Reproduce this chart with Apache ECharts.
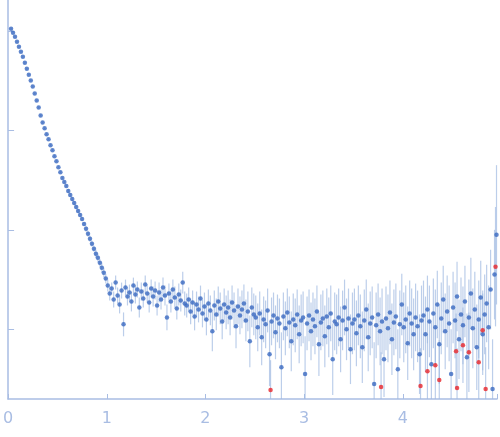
<!DOCTYPE html>
<html>
<head>
<meta charset="utf-8">
<script src="https://cdn.jsdelivr.net/npm/echarts@6/dist/echarts.min.js"></script>
<style>html,body{margin:0;padding:0;background:#fff}#chart{width:500px;height:437px}</style>
</head>
<body>
<div id="chart"></div>
<script>
// [q, log10 I, error]
const curvePoints = [
  [0.03,3.02,0.01],[0.05,2.98,0.01],[0.07,2.94,0.01],[0.09,2.89,0.01],[0.11,2.84,0.01],[0.13,2.79,0.01],
  [0.15,2.74,0.01],[0.17,2.68,0.01],[0.19,2.62,0.01],[0.21,2.56,0.01],[0.23,2.50,0.01],[0.25,2.44,0.01],
  [0.27,2.37,0.01],[0.29,2.30,0.01],[0.31,2.23,0.01],[0.33,2.15,0.01],[0.35,2.08,0.01],[0.37,2.02,0.01],
  [0.39,1.96,0.01],[0.41,1.91,0.01],[0.43,1.85,0.01],[0.45,1.80,0.01],[0.47,1.74,0.01],[0.49,1.69,0.01],
  [0.51,1.63,0.01],[0.53,1.58,0.01],[0.55,1.52,0.01],[0.57,1.48,0.01],[0.59,1.44,0.01],[0.61,1.39,0.02],
  [0.63,1.35,0.02],[0.65,1.31,0.02],[0.67,1.27,0.02],[0.69,1.23,0.02],[0.71,1.19,0.02],[0.73,1.15,0.02],
  [0.75,1.11,0.02],[0.77,1.06,0.02],[0.79,1.01,0.03],[0.81,0.96,0.03],[0.83,0.91,0.03],[0.85,0.86,0.03],
  [0.87,0.81,0.03],[0.89,0.76,0.04],[0.91,0.72,0.04],[0.93,0.67,0.04],[0.95,0.62,0.05],[0.97,0.57,0.05],
  [0.99,0.51,0.05]
];
const plateauPoints = [
  [1.01,0.44,0.06],[1.03,0.36,0.07],[1.05,0.41,0.06],[1.07,0.30,0.08],[1.09,0.47,0.07],[1.11,0.34,0.08],
  [1.13,0.25,0.09],[1.15,0.39,0.08],[1.17,0.05,0.12],[1.19,0.42,0.08],[1.21,0.33,0.09],[1.23,0.37,0.08],
  [1.25,0.28,0.10],[1.27,0.44,0.08],[1.29,0.35,0.09],[1.31,0.40,0.08],[1.33,0.22,0.10],[1.35,0.38,0.09],
  [1.37,0.31,0.09],[1.39,0.45,0.09],[1.41,0.36,0.09],[1.43,0.27,0.10],[1.45,0.41,0.09],[1.47,0.33,0.10],
  [1.49,0.39,0.09],[1.51,0.24,0.10],[1.53,0.37,0.10],[1.55,0.30,0.10],[1.57,0.42,0.10],[1.59,0.34,0.10],
  [1.61,0.12,0.13],[1.63,0.36,0.10],[1.65,0.28,0.11],[1.67,0.40,0.10],[1.69,0.32,0.11],[1.71,0.21,0.11],
  [1.73,0.35,0.11],[1.75,0.29,0.11],[1.77,0.47,0.11],[1.79,0.26,0.12]
];
const midPoints = [
  [1.81,0.24,0.12],[1.83,0.30,0.12],[1.85,0.18,0.13],[1.87,0.27,0.12],[1.89,0.13,0.14],[1.91,0.25,0.13],
  [1.93,0.20,0.13],[1.95,0.31,0.13],[1.97,0.16,0.14],[1.99,0.23,0.14],[2.01,0.10,0.16],[2.03,0.26,0.14],
  [2.05,0.19,0.15],[2.07,-0.02,0.20],[2.09,0.24,0.15],[2.11,0.15,0.16],[2.13,0.28,0.15],[2.15,0.21,0.16],
  [2.17,0.08,0.18],[2.19,0.25,0.16],[2.21,0.17,0.17],[2.23,0.22,0.17],[2.25,0.12,0.18],[2.27,0.27,0.17],
  [2.29,0.19,0.18],[2.31,0.03,0.22],[2.33,0.23,0.18],[2.35,0.14,0.19],[2.37,0.20,0.19],[2.39,0.26,0.19],
  [2.41,0.09,0.21],[2.43,0.18,0.20],[2.45,-0.12,0.26],[2.47,0.22,0.20],[2.49,0.15,0.21]
];
const farPoints = [
  [2.51,0.12,0.22],[2.53,0.02,0.24],[2.55,0.16,0.22],[2.57,-0.08,0.28],[2.59,0.10,0.23],[2.61,0.05,0.24],
  [2.63,0.19,0.22],[2.65,-0.25,0.32],[2.67,0.08,0.24],[2.69,0.14,0.23],[2.71,-0.03,0.27],[2.73,0.11,0.24],
  [2.75,0.06,0.25],[2.77,-0.38,0.35],[2.79,0.13,0.24],[2.81,0.01,0.27],[2.83,0.17,0.24],[2.85,0.07,0.26],
  [2.87,-0.12,0.30],[2.89,0.10,0.26],[2.91,0.04,0.27],[2.93,0.15,0.25],[2.95,-0.05,0.29],[2.97,0.09,0.26],
  [2.99,0.12,0.26],[3.01,-0.45,0.38],[3.03,0.06,0.27],[3.05,0.14,0.26],[3.07,-0.02,0.29],[3.09,0.10,0.27],
  [3.11,0.03,0.28],[3.13,0.18,0.26],[3.15,-0.15,0.32],[3.17,0.07,0.28],[3.19,0.11,0.28],[3.21,-0.07,0.31],
  [3.23,0.13,0.28],[3.25,0.02,0.30],[3.27,0.16,0.28],[3.29,-0.30,0.36],[3.31,0.08,0.29],[3.33,0.05,0.30],
  [3.35,0.12,0.29],[3.37,-0.10,0.33],[3.39,0.09,0.30],[3.41,0.22,0.28],[3.43,0.00,0.31],[3.45,0.11,0.30],
  [3.47,-0.20,0.35],[3.49,0.06,0.31]
];
const highPoints = [
  [3.51,0.10,0.31],[3.53,-0.04,0.33],[3.55,0.14,0.30],[3.57,0.03,0.32],[3.59,-0.18,0.36],[3.61,0.09,0.31],
  [3.63,0.20,0.30],[3.65,-0.08,0.34],[3.67,0.06,0.32],[3.69,0.12,0.31],[3.71,-0.55,0.42],[3.73,0.04,0.33],
  [3.75,0.15,0.31],[3.77,-0.02,0.34],[3.79,0.08,0.33],[3.81,-0.30,0.38],[3.83,0.11,0.32],[3.85,0.01,0.34],
  [3.87,0.17,0.32],[3.89,-0.10,0.36],[3.91,0.07,0.33],[3.93,0.13,0.33],[3.95,-0.40,0.40],[3.97,0.05,0.34],
  [3.99,0.25,0.31],[4.01,0.02,0.35],[4.03,0.10,0.34],[4.05,-0.14,0.37],[4.07,0.16,0.33],[4.09,0.06,0.35],
  [4.11,-0.05,0.36],[4.13,0.12,0.34],[4.15,0.03,0.36],[4.17,-0.25,0.40],[4.19,0.09,0.35],
  [4.21,0.14,0.35],[4.23,-0.05,0.38],[4.25,0.20,0.34],[4.27,0.08,0.36],[4.29,-0.35,0.42],[4.31,0.16,0.35],
  [4.33,0.02,0.38],[4.35,0.25,0.34],[4.37,-0.15,0.40],[4.39,0.11,0.36],[4.41,0.30,0.34],[4.43,-0.02,0.38],
  [4.45,0.18,0.36],[4.47,0.06,0.38],[4.49,-0.45,0.45],[4.51,0.22,0.36],[4.53,0.09,0.38],[4.55,0.33,0.35],
  [4.57,-0.10,0.40],[4.59,0.15,0.37],[4.61,0.04,0.39],[4.63,0.28,0.36],[4.65,-0.28,0.44],[4.67,0.12,0.38],
  [4.69,0.36,0.36],[4.71,0.01,0.40],[4.73,0.20,0.38],[4.75,-0.18,0.43],[4.77,0.10,0.39],[4.79,0.32,0.37],
  [4.81,-0.05,0.41],[4.83,0.15,0.40],[4.85,0.26,0.39],[4.87,0.02,0.42],[4.89,0.40,0.40],[4.91,-0.60,0.50],
  [4.93,0.55,0.45],[4.95,0.95,0.70]
];
const outlierPoints = [
  [2.66,-0.61,0.30],[3.78,-0.58,0.35],[4.18,-0.57,0.38],[4.25,-0.42,0.38],[4.33,-0.36,0.38],[4.37,-0.51,0.40],
  [4.54,-0.22,0.38],[4.55,-0.59,0.40],[4.61,-0.16,0.38],[4.67,-0.23,0.40],[4.77,-0.33,0.40],[4.81,-0.01,0.40],
  [4.84,-0.60,0.42],[4.94,0.63,0.60]
];
const yTicks = [0, 1, 2, 3];

const mainPoints = curvePoints.concat(plateauPoints, midPoints, farPoints, highPoints);
const allPoints = mainPoints.concat(outlierPoints);

function errorBar(params, api) {
  const q = api.value(0), v = api.value(1), e = api.value(2);
  const top = api.coord([q, v + e]);
  const bot = api.coord([q, v - e]);
  return {
    type: 'line',
    shape: { x1: top[0], y1: top[1], x2: bot[0], y2: bot[1] },
    style: { stroke: 'rgba(160,185,225,0.7)', lineWidth: 1.2 }
  };
}

const axisColor = '#a9bde3';
echarts.init(document.querySelector('#chart')).setOption({
  animation: false,
  grid: { left: 5, right: 2, top: 0, bottom: 38 },
  xAxis: {
    type: 'value', min: 0, max: 4.955, interval: 1,
    axisLine: { onZero: false, lineStyle: { color: axisColor, width: 1.5 } },
    axisTick: { inside: true, length: 5, lineStyle: { color: axisColor } },
    axisLabel: { color: axisColor, fontSize: 16, fontFamily: 'DejaVu Sans', margin: 12,
      formatter: v => (Math.abs(v - Math.round(v)) < 1e-6 ? String(Math.round(v)) : '') },
    splitLine: { show: false }
  },
  yAxis: {
    type: 'value', min: -0.7, max: 3.31,
    axisLine: { show: true, onZero: false, lineStyle: { color: axisColor, width: 1.5 } },
    axisTick: { show: true, inside: true, length: 6, customValues: yTicks, lineStyle: { color: axisColor } },
    axisLabel: { show: false },
    splitLine: { show: false }
  },
  series: [
    { type: 'custom', renderItem: errorBar, data: allPoints, clip: true, z: 1 },
    { type: 'scatter', data: mainPoints, symbolSize: 4.5, itemStyle: { color: '#3a69c0' }, z: 3 },
    { type: 'scatter', data: outlierPoints, symbolSize: 4.5, itemStyle: { color: '#e8262a' }, z: 4 }
  ]
});
</script>
</body>
</html>
